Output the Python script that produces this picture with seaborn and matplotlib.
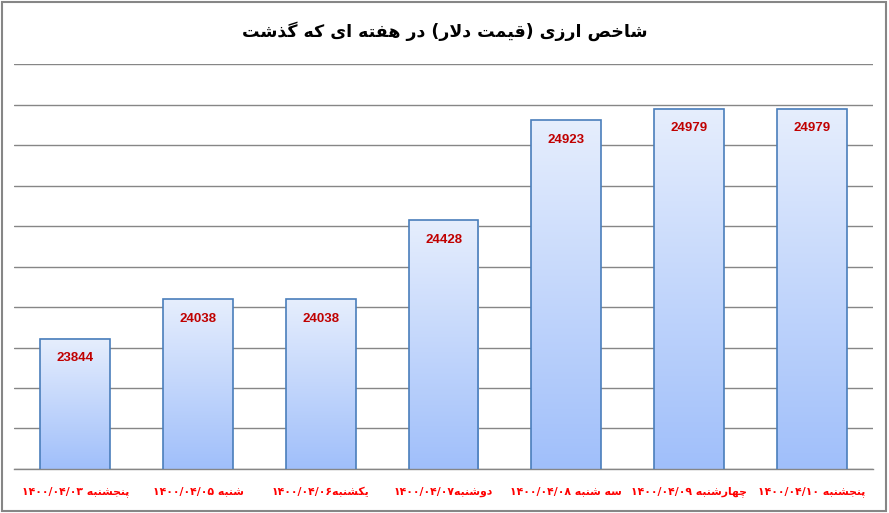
import re
import numpy as np
import pandas as pd
import matplotlib
matplotlib.use('Agg')
import matplotlib.pyplot as plt
import seaborn as sns

# data
days = ['پنجشنبه ۱۴۰۰/۰۴/۰۳', 'شنبه ۱۴۰۰/۰۴/۰۵', 'یکشنبه۱۴۰۰/۰۴/۰۶', 'دوشنبه۱۴۰۰/۰۴/۰۷',
        'سه شنبه ۱۴۰۰/۰۴/۰۸', 'چهارشنبه ۱۴۰۰/۰۴/۰۹', 'پنجشنبه ۱۴۰۰/۰۴/۱۰']
prices = [23844, 24038, 24038, 24428, 24923, 24979, 24979]
title = 'شاخص ارزی (قیمت دلار) در هفته ای که گذشت'

# matplotlib has no Arabic shaping, so map letters to presentation forms by hand
# (isolated, final, initial, medial)
FORMS = {
    'ا': ('\uFE8D', '\uFE8E', None, None),
    'ب': ('\uFE8F', '\uFE90', '\uFE91', '\uFE92'),
    'پ': ('\uFB56', '\uFB57', '\uFB58', '\uFB59'),
    'ت': ('\uFE95', '\uFE96', '\uFE97', '\uFE98'),
    'ج': ('\uFE9D', '\uFE9E', '\uFE9F', '\uFEA0'),
    'چ': ('\uFB7A', '\uFB7B', '\uFB7C', '\uFB7D'),
    'خ': ('\uFEA5', '\uFEA6', '\uFEA7', '\uFEA8'),
    'د': ('\uFEA9', '\uFEAA', None, None),
    'ذ': ('\uFEAB', '\uFEAC', None, None),
    'ر': ('\uFEAD', '\uFEAE', None, None),
    'ز': ('\uFEAF', '\uFEB0', None, None),
    'س': ('\uFEB1', '\uFEB2', '\uFEB3', '\uFEB4'),
    'ش': ('\uFEB5', '\uFEB6', '\uFEB7', '\uFEB8'),
    'ص': ('\uFEB9', '\uFEBA', '\uFEBB', '\uFEBC'),
    'ف': ('\uFED1', '\uFED2', '\uFED3', '\uFED4'),
    'ق': ('\uFED5', '\uFED6', '\uFED7', '\uFED8'),
    'ک': ('\uFB8E', '\uFB8F', '\uFB90', '\uFB91'),
    'گ': ('\uFB92', '\uFB93', '\uFB94', '\uFB95'),
    'ل': ('\uFEDD', '\uFEDE', '\uFEDF', '\uFEE0'),
    'م': ('\uFEE1', '\uFEE2', '\uFEE3', '\uFEE4'),
    'ن': ('\uFEE5', '\uFEE6', '\uFEE7', '\uFEE8'),
    'ه': ('\uFEE9', '\uFEEA', '\uFEEB', '\uFEEC'),
    'و': ('\uFEED', '\uFEEE', None, None),
    'ی': ('\uFBFC', '\uFBFD', '\uFBFE', '\uFBFF'),
}


def shape(text):
    out = []
    i = 0
    while i < len(text):
        ch = text[i]
        if ch not in FORMS:
            out.append(ch)
            i += 1
            continue
        prev = text[i - 1] if i > 0 else None
        nxt = text[i + 1] if i + 1 < len(text) else None
        jp = prev in FORMS and FORMS[prev][2] is not None
        if ch == 'ل' and nxt == 'ا':
            out.append('\uFEFC' if jp else '\uFEFB')
            i += 2
            continue
        iso, fin, ini, med = FORMS[ch]
        jn = nxt in FORMS and ini is not None
        out.append(med if jp and jn else fin if jp else ini if jn else iso)
        i += 1
    return ''.join(out)


def rtl(text):
    tokens = re.findall(r'[\u06F0-\u06F90-9/]+|[^\u06F0-\u06F90-9/]+', shape(text))
    vis = []
    for t in reversed(tokens):
        if re.match(r'[\u06F0-\u06F90-9/]', t):
            vis.append(t)
        else:
            vis.append(t[::-1].translate(str.maketrans('()', ')(')))
    return ''.join(vis)


df = pd.DataFrame({'day': [rtl(d) for d in days], 'price': prices})

sns.set_style('white')
plt.rcParams['font.family'] = ['DejaVu Sans']

fig = plt.figure(figsize=(8.89, 5.13), dpi=100)
ax = fig.add_axes([0.0158, 0.0858, 0.9662, 0.7892])

sns.barplot(data=df, x='day', y='price', width=0.57, color='white', ax=ax)

ymin, ymax = 23200, 25200
ax.set_ylim(ymin, ymax)
ax.set_yticks(np.arange(ymin, ymax + 1, 200))
ax.yaxis.grid(True, color='#868686', linewidth=1)
ax.set_axisbelow(True)
for s in ['top', 'right', 'left']:
    ax.spines[s].set_visible(False)
ax.spines['bottom'].set_color('#868686')
ax.spines['bottom'].set_linewidth(1)
ax.tick_params(axis='y', left=False, labelleft=False)
ax.tick_params(axis='x', bottom=False, pad=9)
for lab in ax.get_xticklabels():
    lab.set_color('#FF0000')
    lab.set_fontsize(7.8)
    lab.set_fontweight('bold')
ax.set_xlabel('')
ax.set_ylabel('')

# gradient fill: light at the top, blue at the bottom
grad = np.linspace(0, 1, 256).reshape(-1, 1)
cmap = matplotlib.colors.LinearSegmentedColormap.from_list('g', ['#A0BFFA', '#E6EEFD'])
for bar, val in zip(ax.patches, prices):
    x0, w = bar.get_x(), bar.get_width()
    top = bar.get_y() + bar.get_height()
    bar.set_facecolor('none')
    bar.set_edgecolor('#4A7EBB')
    bar.set_linewidth(1.2)
    bar.set_zorder(3)
    ax.imshow(grad, extent=[x0, x0 + w, ymin, top], origin='lower', cmap=cmap,
              aspect='auto', zorder=2)
    ax.annotate(f'{val}', (x0 + w / 2, top), xytext=(0, -14), textcoords='offset points',
                ha='center', va='center', color='#C00000', fontsize=9.5, fontweight='bold',
                family='Liberation Sans', zorder=4)

ax.set_xlim(-0.5, len(prices) - 0.5)
ax.set_ylim(ymin, ymax)

fig.text(0.5, 0.94, rtl(title), ha='center', va='center', fontsize=12.5, fontweight='bold',
         color='black')
fig.add_artist(plt.Rectangle((0.002, 0.004), 0.995, 0.992, transform=fig.transFigure,
                             fill=False, edgecolor='#868686', linewidth=1.5))

fig.savefig('out.png', dpi=100)
